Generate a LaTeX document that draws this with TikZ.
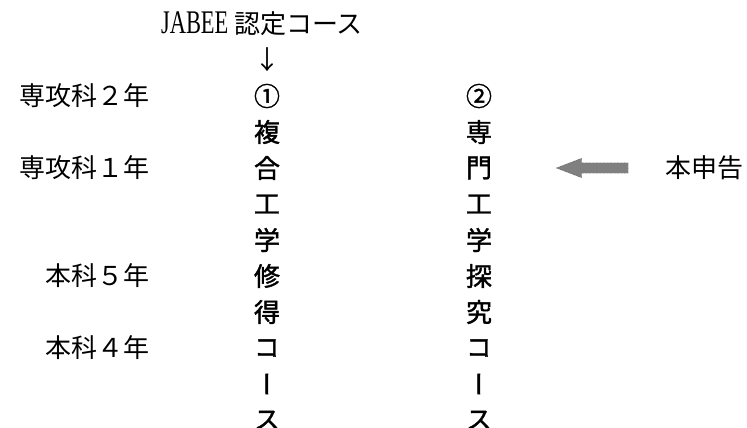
\documentclass[tikz,border=0pt]{standalone}
\usepackage{fontspec}
\setmainfont{Noto Sans CJK JP}
\newfontfamily\colfont[RawFeature=+vert,FakeBold=1.5]{Noto Sans CJK JP}
\newfontfamily\latinfont[FakeStretch=0.68]{Liberation Serif}
\usepackage{tikz}
\usetikzlibrary{positioning,shapes.arrows}

\begin{document}
\begin{tikzpicture}
          [x=1pt,y=-1pt,node distance=36pt,
            every node/.style={inner sep=0pt,font=\fontsize{26}{26}\selectfont},
            col/.style={font=\fontsize{26}{26}\selectfont\colfont},
            yr/.style={anchor=east},
            bigarrow/.style={single arrow,draw=black!80,densely dotted,fill=gray,
              inner xsep=0pt,inner ysep=5pt,minimum height=72pt,
              single arrow head extend=4.5pt,single arrow tip angle=42,
              shape border rotate=180}]
          \useasboundingbox (0,0) rectangle (747,428);
          \node (ttl) at (262,24) {{\fontsize{33}{33}\latinfont JABEE} 認定コース};
          \node (dn) at (267,60) {↓};
          \node[col] (a0) at (267,96) {①};
          \node[col] (b0) at (479,96) {②};
          \foreach \ch [count=\i] in {複,合,工,学,修,得,コ,ー,ス}
          {\pgfmathtruncatemacro\j{\i-1}
           \node[col] (a\i) [below of=a\j] {\ch};}
          \foreach \ch [count=\i] in {専,門,工,学,探,究,コ,ー,ス}
          {\pgfmathtruncatemacro\j{\i-1}
           \node[col] (b\i) [below of=b\j] {\ch};}
          \node[yr] (s2) at (a0 -| 150,0) {専攻科２年};
          \node[yr] (s1) at (a2 -| 150,0) {専攻科１年};
          \node[yr] (h5) at (a5 -| 150,0) {本科５年};
          \node[yr] (h4) at (a7 -| 150,0) {本科４年};
          \node[bigarrow] (arr) at (b2 -| 599,0) {};
          \node (hon) at (b2 -| 704,0) {本申告};
        \end{tikzpicture}
\end{document}
